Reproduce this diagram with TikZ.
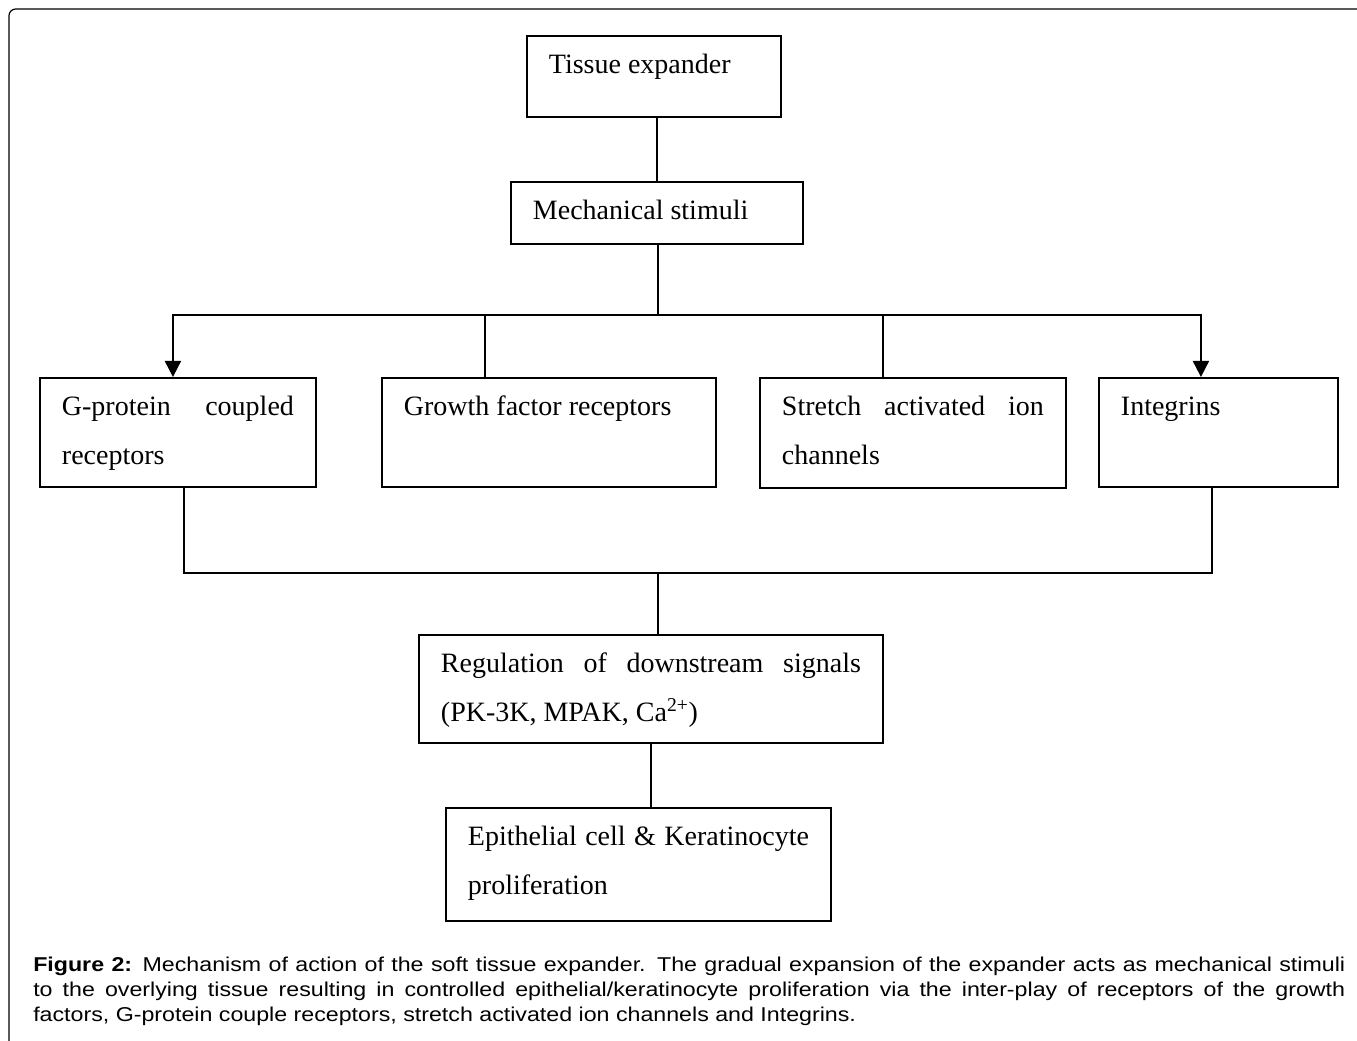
\documentclass[tikz,border=0pt]{standalone}
\usepackage{fontspec}
\setmainfont{Liberation Serif}
\newfontfamily\capfont[FakeStretch=1.16]{Liberation Sans}
\usetikzlibrary{arrows.meta}
\newlength\pxu
\setlength\pxu{0.75pt}

\begin{document}
\begin{tikzpicture}[x=0.75pt, y=-0.75pt,
  stage/.style={draw, line width=1.4pt, anchor=north west, inner xsep=16.5pt, inner ysep=0pt,
    font=\fontsize{21}{36.75}\selectfont},
  link/.style={line width=1.4pt},
  tip/.style={-{Triangle[width=12pt,length=12pt]}},
  frame/.style={line width=0.9pt, rounded corners=5pt}]

  \useasboundingbox (0,0) rectangle (1357,1041);

  %cadre
  \draw[frame] (9,1041) -- (9,9) -- (1357,9);

  \newcommand{\mkstage}[6]{%
    \node[stage] (#1) at (#2,#3) {\parbox[c][#5\pxu][t]{\dimexpr#4\pxu-44\pxu\relax}{%
      \hyphenpenalty=10000 \exhyphenpenalty=10000 \tolerance=10000
      \rule{0pt}{38\pxu}#6}};
  }

  %boxes
  \mkstage{tissue}{526}{35}{254}{81}{Tissue expander}
  \mkstage{mech}{510}{181}{292}{62}{Mechanical stimuli}
  \mkstage{gpcr}{39}{377}{276}{109}{G-protein coupled receptors}
  \mkstage{growth}{381}{377}{334}{109}{Growth factor receptors}
  \mkstage{stretch}{759}{377}{306}{110}{Stretch activated ion channels}
  \mkstage{integ}{1098}{377}{239}{109}{Integrins}
  \mkstage{reg}{418}{634}{464}{108}{Regulation of downstream signals (PK-3K, MPAK, Ca\textsuperscript{2+})}
  \mkstage{epi}{445}{807}{385}{113}{Epithelial cell \& Keratinocyte proliferation}

  \coordinate (split) at (658,315);
  \coordinate (merge) at (658,573);

  %connectors
  \draw[link] (mech.north) -- (mech.north |- tissue.south);
  \draw[link] (split) -- (split |- mech.south);
  \draw[link, tip] (split) -| ([xshift=-3.75pt]gpcr.north);
  \draw[link] (split) -| ([xshift=-48pt]growth.north);
  \draw[link] (split) -| ([xshift=-22.5pt]stretch.north);
  \draw[link, tip] (split) -| ([xshift=-13.125pt]integ.north);
  \draw[link] ([xshift=4.5pt]gpcr.south) |- (merge) -| ([xshift=-4.875pt]integ.south);
  \draw[link] (merge) -- (merge |- reg.north);
  \draw[link] (reg.south) -- (reg.south |- epi.north);

  %legende
  \node[anchor=base west, inner sep=0pt, font=\capfont\fontsize{15}{18.75}\selectfont] (cap) at (33,971)
    {\parbox[t]{984pt}{\hyphenpenalty=10000 \tolerance=10000
    {\bfseries Figure 2:} Mechanism of action of the soft tissue expander. The gradual expansion of the expander acts as mechanical stimuli\linebreak
    to the overlying tissue resulting in controlled epithelial/keratinocyte proliferation via the inter-play of receptors of the growth\linebreak
    factors, G-protein couple receptors, stretch activated ion channels and Integrins.}};

\end{tikzpicture}
\end{document}
